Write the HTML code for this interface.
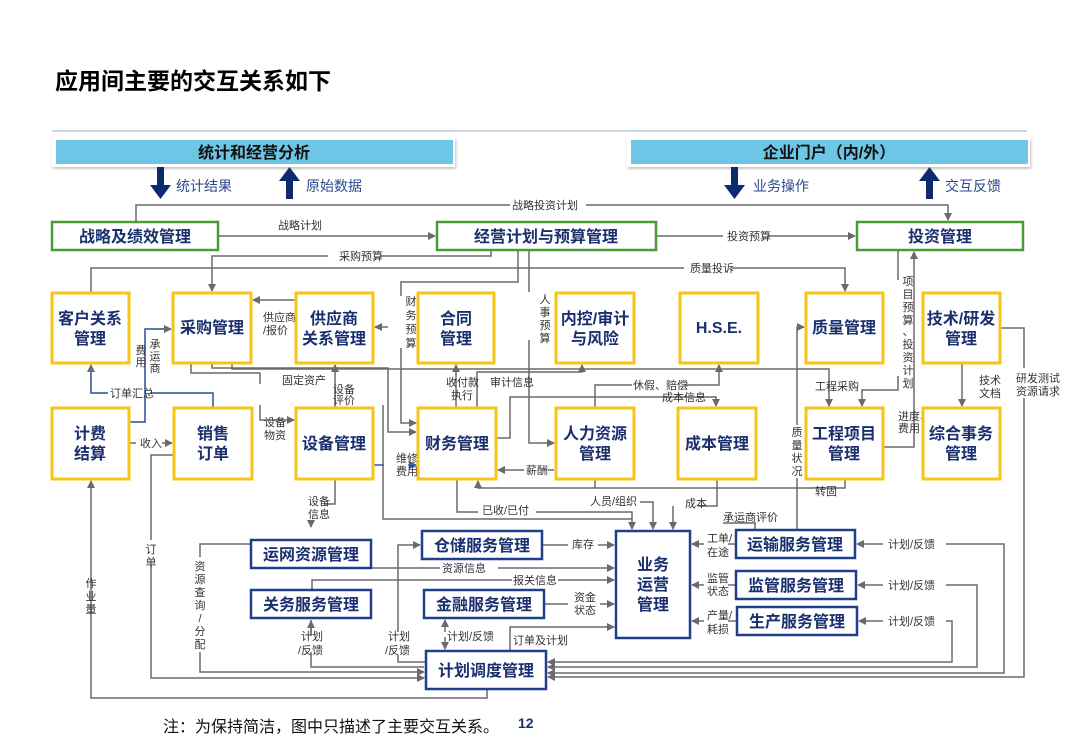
<!DOCTYPE html>
<html><head><meta charset="utf-8"><style>
body{margin:0;background:#fff;}
svg{display:block;font-family:"Liberation Sans","Noto Sans CJK SC",sans-serif;}
.t{font-weight:bold;fill:#1a2f6e;font-size:16px;text-anchor:middle;}
.l{font-size:11px;fill:#333;}
.lc{font-size:11px;fill:#333;text-anchor:middle;}
.ln{fill:none;stroke:#6a6a6a;stroke-width:1.5;}
.y{fill:#fff;stroke:#f5c518;stroke-width:3;}
.g{fill:#fff;stroke:#4a9a3a;stroke-width:2.5;}
.b{fill:#fff;stroke:#1f3f8a;stroke-width:2.5;}
</style></head><body>
<svg width="1080" height="755" viewBox="0 0 1080 755">
<defs>
<marker id="a" markerWidth="8" markerHeight="8" refX="7" refY="4" orient="auto" markerUnits="userSpaceOnUse"><path d="M0,0 L8,4 L0,8 z" fill="#6a6a6a"/></marker>
<marker id="ab" markerWidth="8" markerHeight="8" refX="7" refY="4" orient="auto" markerUnits="userSpaceOnUse"><path d="M0,0 L8,4 L0,8 z" fill="#1f5fbf"/></marker>
<filter id="sh"><feDropShadow dx="1" dy="2" stdDeviation="1.5" flood-color="#999" flood-opacity="0.6"/></filter>
</defs>
<text x="55" y="89" style="font-size:23px;font-weight:bold;fill:#000">应用间主要的交互关系如下</text>
<line x1="52" y1="131" x2="1027" y2="131" stroke="#b8c8dc" stroke-width="1.5"/>
<rect x="52" y="137" width="403" height="30" fill="#fff" filter="url(#sh)"/>
<rect x="56" y="140" width="397" height="24" fill="#6ec6e6"/>
<text x="254" y="158" class="t" style="fill:#111">统计和经营分析</text>
<rect x="627" y="137" width="403" height="30" fill="#fff" filter="url(#sh)"/>
<rect x="631" y="140" width="397" height="24" fill="#6ec6e6"/>
<text x="829" y="158" class="t" style="fill:#111">企业门户（内/外）</text>
<g fill="#0d2a6e">
<path d="M157,167h7v18h7l-10.5,14l-10.5,-14h7z"/>
<path d="M286,199h7v-18h7l-10.5,-14l-10.5,14h7z"/>
<path d="M731,167h7v18h7l-10.5,14l-10.5,-14h7z"/>
<path d="M926,199h7v-18h7l-10.5,-14l-10.5,14h7z"/>
</g>
<g style="font-size:14px;fill:#2b4a8c">
<text x="176" y="191">统计结果</text><text x="306" y="191">原始数据</text>
<text x="753" y="191">业务操作</text><text x="945" y="191">交互反馈</text>
</g>
<g class="ln">
<path d="M136,222V205H510M586,205H948V220" marker-end="url(#a)"/>
<path d="M218,236H435" marker-end="url(#a)"/>
<path d="M656,236H723M767,236H855" marker-end="url(#a)"/>
<path d="M491,250V256H380M328,256H212V291" marker-end="url(#a)"/>
<path d="M91,293V268H684M732,268H845V291" marker-end="url(#a)"/>
<path d="M518,250V282H401V296M401,348V423H416" marker-end="url(#a)"/>
<path d="M529,250V292M529,340V443H554" marker-end="url(#a)"/>
<path d="M296,300H253" marker-end="url(#a)"/>
<path d="M129,422H145V329H171" marker-end="url(#a)" stroke="#2a4f9a"/>
<path d="M213,408V393H150M108,393H91V365" marker-end="url(#a)" stroke="#2a4f9a"/>
<path d="M212,363V368H388V432H416" marker-end="url(#a)"/>
<path d="M191,363V373H260V384M260,405V420H294" marker-end="url(#a)"/>
<path d="M232,363V369H829V406" marker-end="url(#a)"/>
<path d="M388,327H375" marker-end="url(#a)"/>
<path d="M335,408V365" marker-end="url(#a)"/>
<path d="M456,408V365" marker-end="url(#a)"/>
<path d="M477,408V372H582V365" marker-end="url(#a)"/>
<path d="M496,438H510V397H716V406" marker-end="url(#a)"/>
<path d="M595,408V385H632M684,385H719V365" marker-end="url(#a)"/>
<path d="M898,250V280M898,376V390H862V406" marker-end="url(#a)"/>
<path d="M883,447H914V252" marker-end="url(#a)"/>
<path d="M962,363V406" marker-end="url(#a)"/>
<path d="M1000,328H1024V368M1024,398V677H548" marker-end="url(#a)"/>
<path d="M797,530V478M797,425V327H804" marker-end="url(#a)"/>
<path d="M129,443H136M162,443H172" marker-end="url(#a)"/>
<path d="M174,455H151V540M151,565V678H424" marker-end="url(#a)"/>
<path d="M487,689V698H91V481" marker-end="url(#a)"/>
<path d="M335,479V504H325M311,522V527" marker-end="url(#a)"/>
<path d="M373,465H384" stroke="#1f5fbf"/>
<path d="M408,465H416" marker-end="url(#ab)" stroke="#1f5fbf"/>
<path d="M554,470H548M524,470H498" marker-end="url(#a)"/>
<path d="M457,479V512H478M536,512H632V529" marker-end="url(#a)"/>
<path d="M845,479V488H478V481" marker-end="url(#a)"/>
<path d="M383,405V519H632" />
<path d="M595,479V488"/>
<path d="M640,502H653V529" marker-end="url(#a)"/>
<path d="M717,479V506H698M673,506V529" marker-end="url(#a)"/>
<path d="M755,530V523H723"/>
<path d="M251,544H200V557M200,652V672H424" marker-end="url(#a)"/>
<path d="M311,620V636M311,652V667H424" />
<path d="M311,634V621" marker-end="url(#a)"/>
<path d="M426,662H398V655M398,632V545H420" marker-end="url(#a)"/>
<path d="M445,632V620" marker-end="url(#a)"/>
<path d="M445,637V649" marker-end="url(#a)"/>
<path d="M510,651V627H614" marker-end="url(#a)"/>
<path d="M312,568H440M498,568H614" marker-end="url(#a)"/>
<path d="M312,590V580H512M558,580H614" marker-end="url(#a)"/>
<path d="M542,545H568M598,545H614" marker-end="url(#a)"/>
<path d="M544,604H568M600,604H614" marker-end="url(#a)"/>
<path d="M736,544H728" /><path d="M704,544H692" marker-end="url(#a)"/>
<path d="M736,585H728" /><path d="M704,585H692" marker-end="url(#a)"/>
<path d="M737,621H728" /><path d="M704,621H692" marker-end="url(#a)"/>
<path d="M883,544H857" marker-end="url(#a)"/>
<path d="M883,585H858" marker-end="url(#a)"/>
<path d="M883,621H859" marker-end="url(#a)"/>
<path d="M946,544H1004V673H548" marker-end="url(#a)"/>
<path d="M946,585H977V667H548" marker-end="url(#a)"/>
<path d="M946,621H952V662H548" marker-end="url(#a)"/>
</g>
<g class="l">
<text x="512" y="209">战略投资计划</text>
<text x="278" y="229">战略计划</text>
<text x="727" y="240">投资预算</text>
<text x="339" y="260">采购预算</text>
<text x="690" y="272">质量投诉</text>
<text x="263" y="321">供应商</text><text x="263" y="334">/报价</text>
<text x="110" y="397">订单汇总</text>
<text x="282" y="384">固定资产</text>
<text x="333" y="393">设备</text><text x="333" y="404">评价</text>
<text x="446" y="386">收付款</text><text x="451" y="399">执行</text>
<text x="490" y="386">审计信息</text>
<text x="633" y="389">休假、赔偿</text>
<text x="662" y="401">成本信息</text>
<text x="815" y="390">工程采购</text>
<text x="898" y="420">进度、</text><text x="898" y="432">费用</text>
<text x="979" y="384">技术</text><text x="979" y="397">文档</text>
<text x="1016" y="382">研发测试</text><text x="1016" y="395">资源请求</text>
<text x="140" y="447">收入</text>
<text x="264" y="426">设备</text><text x="264" y="439">物资</text>
<text x="396" y="462">维修</text><text x="396" y="475">费用</text>
<text x="526" y="474">薪酬</text>
<text x="308" y="505">设备</text><text x="308" y="518">信息</text>
<text x="482" y="514">已收/已付</text>
<text x="590" y="505">人员/组织</text>
<text x="685" y="507">成本</text>
<text x="723" y="521">承运商评价</text>
<text x="815" y="495">转固</text>
<text x="442" y="572">资源信息</text>
<text x="513" y="584">报关信息</text>
<text x="572" y="548">库存</text>
<text x="574" y="601">资金</text><text x="574" y="614">状态</text>
<text x="707" y="542">工单/</text><text x="707" y="556">在途</text>
<text x="707" y="582">监管</text><text x="707" y="595">状态</text>
<text x="707" y="619">产量/</text><text x="707" y="633">耗损</text>
<text x="888" y="548">计划/反馈</text>
<text x="888" y="589">计划/反馈</text>
<text x="888" y="625">计划/反馈</text>
<text x="301" y="640">计划</text><text x="298" y="654">/反馈</text>
<text x="388" y="640">计划</text><text x="385" y="654">/反馈</text>
<text x="447" y="640">计划/反馈</text>
<text x="513" y="644">订单及计划</text>
</g>
<g class="lc">
<text x="141" y="354">费</text><text x="141" y="366">用</text>
<text x="155" y="348">承</text><text x="155" y="360">运</text><text x="155" y="372">商</text>
<text x="411" y="305">财</text><text x="411" y="319">务</text><text x="411" y="333">预</text><text x="411" y="347">算</text>
<text x="545" y="303">人</text><text x="545" y="316">事</text><text x="545" y="329">预</text><text x="545" y="342">算</text>
<text x="908" y="285">项</text><text x="908" y="298">目</text><text x="908" y="311">预</text><text x="908" y="324">算</text><text x="908" y="335">、</text><text x="908" y="348">投</text><text x="908" y="361">资</text><text x="908" y="374">计</text><text x="908" y="387">划</text>
<text x="797" y="436">质</text><text x="797" y="449">量</text><text x="797" y="462">状</text><text x="797" y="475">况</text>
<text x="151" y="553">订</text><text x="151" y="566">单</text>
<text x="91" y="587">作</text><text x="91" y="600">业</text><text x="91" y="613">量</text>
<text x="200" y="570">资</text><text x="200" y="583">源</text><text x="200" y="596">查</text><text x="200" y="609">询</text><text x="200" y="622">/</text><text x="200" y="635">分</text><text x="200" y="648">配</text>
</g>
<rect x="52" y="222" width="166" height="28" class="g"/><text x="135" y="242" class="t">战略及绩效管理</text>
<rect x="437" y="222" width="219" height="28" class="g"/><text x="546" y="242" class="t">经营计划与预算管理</text>
<rect x="857" y="222" width="166" height="28" class="g"/><text x="940" y="242" class="t">投资管理</text>
<rect x="52" y="293" width="77" height="70" class="y"/><text x="90" y="324" class="t">客户关系</text><text x="90" y="344" class="t">管理</text>
<rect x="173" y="293" width="78" height="70" class="y"/><text x="212" y="333" class="t">采购管理</text>
<rect x="296" y="293" width="77" height="70" class="y"/><text x="334" y="324" class="t">供应商</text><text x="334" y="344" class="t">关系管理</text>
<rect x="418" y="293" width="76" height="70" class="y"/><text x="456" y="324" class="t">合同</text><text x="456" y="344" class="t">管理</text>
<rect x="556" y="293" width="78" height="70" class="y"/><text x="595" y="324" class="t">内控/审计</text><text x="595" y="344" class="t">与风险</text>
<rect x="680" y="293" width="78" height="70" class="y"/><text x="719" y="333" class="t">H.S.E.</text>
<rect x="806" y="293" width="77" height="70" class="y"/><text x="844" y="333" class="t">质量管理</text>
<rect x="923" y="293" width="77" height="70" class="y"/><text x="961" y="324" class="t">技术/研发</text><text x="961" y="344" class="t">管理</text>
<rect x="52" y="408" width="77" height="71" class="y"/><text x="90" y="439" class="t">计费</text><text x="90" y="459" class="t">结算</text>
<rect x="174" y="408" width="78" height="71" class="y"/><text x="213" y="439" class="t">销售</text><text x="213" y="459" class="t">订单</text>
<rect x="296" y="408" width="77" height="71" class="y"/><text x="334" y="449" class="t">设备管理</text>
<rect x="418" y="408" width="78" height="71" class="y"/><text x="457" y="449" class="t">财务管理</text>
<rect x="556" y="408" width="78" height="71" class="y"/><text x="595" y="439" class="t">人力资源</text><text x="595" y="459" class="t">管理</text>
<rect x="678" y="408" width="78" height="71" class="y"/><text x="717" y="449" class="t">成本管理</text>
<rect x="806" y="408" width="77" height="71" class="y"/><text x="844" y="439" class="t">工程项目</text><text x="844" y="459" class="t">管理</text>
<rect x="923" y="408" width="77" height="71" class="y"/><text x="961" y="439" class="t">综合事务</text><text x="961" y="459" class="t">管理</text>
<rect x="251" y="540" width="120" height="28" class="b"/><text x="311" y="560" class="t">运网资源管理</text>
<rect x="251" y="590" width="120" height="28" class="b"/><text x="311" y="610" class="t">关务服务管理</text>
<rect x="422" y="531" width="120" height="28" class="b"/><text x="482" y="551" class="t">仓储服务管理</text>
<rect x="424" y="590" width="120" height="28" class="b"/><text x="484" y="610" class="t">金融服务管理</text>
<rect x="426" y="651" width="120" height="38" class="b"/><text x="486" y="676" class="t">计划调度管理</text>
<rect x="616" y="531" width="74" height="107" class="b"/><text x="653" y="570" class="t">业务</text><text x="653" y="590" class="t">运营</text><text x="653" y="610" class="t">管理</text>
<rect x="736" y="530" width="119" height="28" class="b"/><text x="795" y="550" class="t">运输服务管理</text>
<rect x="736" y="571" width="120" height="28" class="b"/><text x="796" y="591" class="t">监管服务管理</text>
<rect x="737" y="607" width="120" height="28" class="b"/><text x="797" y="627" class="t">生产服务管理</text>
<text x="163" y="732" style="font-size:16px;fill:#111">注：为保持简洁，图中只描述了主要交互关系。</text>
<text x="518" y="728" style="font-size:14px;font-weight:bold;fill:#1a2f6e">12</text>
</svg>
</body></html>
